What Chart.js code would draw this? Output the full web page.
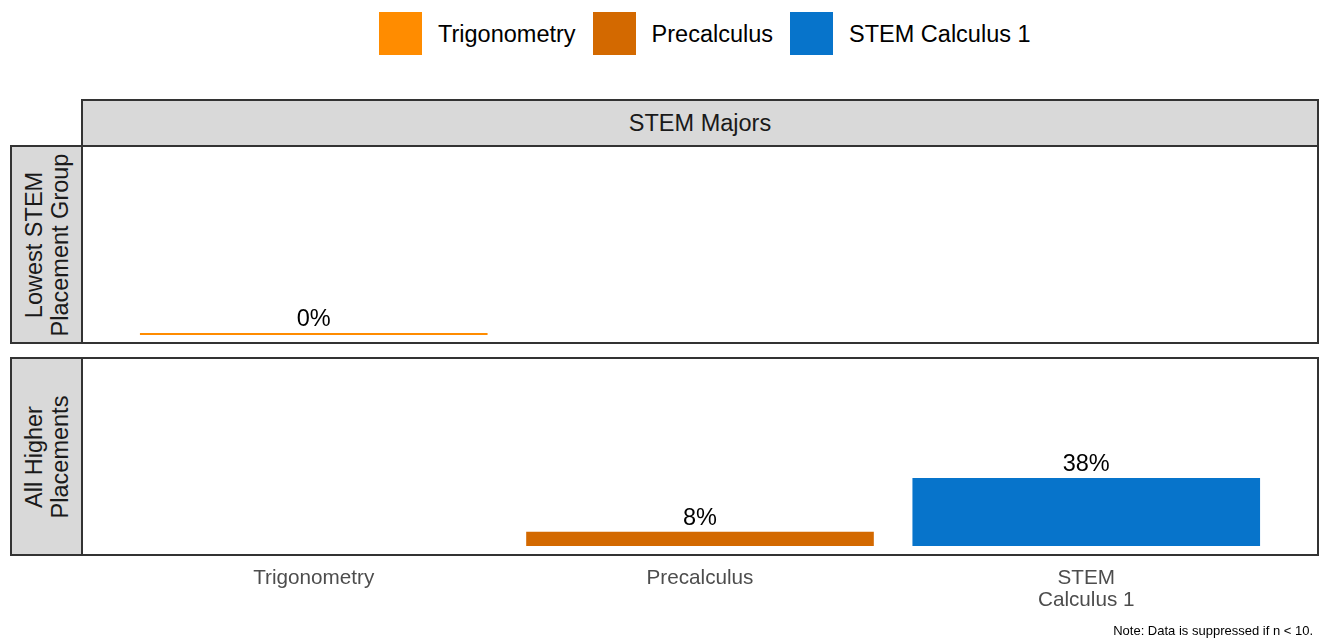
<!DOCTYPE html>
<html>
<head>
<meta charset="utf-8">
<script src="https://cdn.jsdelivr.net/npm/chart.js@4.4.1/dist/chart.umd.min.js"></script>
<style>
    body { margin: 0; background: #fff; font-family: "Liberation Sans", Arial, sans-serif; }
    #wrap { position: relative; width: 1319px; height: 641px; overflow: hidden; }
    canvas { position: absolute; left: 0; }
    #legend { position: absolute; top: 12px; left: 379px; display: flex; align-items: center; font-size: 23.5px; color: #000; }
    #legend .item { display: flex; align-items: center; margin-right: 17px; }
    #legend .box { width: 43px; height: 43px; margin-right: 16px; }
    #legend span { position: relative; top: 1px; }
    .strip { position: absolute; box-sizing: border-box; background: #d9d9d9; border: 2px solid #333; color: #1a1a1a; font-size: 23.5px; }
    .strip.top { left: 81px; top: 99px; width: 1238px; height: 48px; display: flex; align-items: center; justify-content: center; }
    .strip.row { left: 10px; width: 73px; }
    .strip.row span { position: absolute; left: 50%; top: 50%; transform: translate(-50%, -50%) rotate(-90deg); white-space: nowrap; text-align: center; line-height: 26px; }
    #note { position: absolute; right: 6px; bottom: 3px; font-size: 13px; color: #000; }
</style>
</head>
<body>
<div id="wrap">
    <div id="legend"></div>
    <div class="strip top" id="colStrip"></div>
    <div class="strip row" id="rowStrip0" style="top:145px;height:199px;"><span></span></div>
    <div class="strip row" id="rowStrip1" style="top:357px;height:199px;"><span></span></div>
    <canvas id="topPanel" width="1319" height="210" style="top:140px;"></canvas>
    <canvas id="bottomPanel" width="1319" height="289" style="top:352px;"></canvas>
    <div id="note">Note: Data is suppressed if n &lt; 10.</div>
</div>
<script>
// Datos del gráfico
const courses = ['Trigonometry', 'Precalculus', 'STEM Calculus 1'];
const courseColors = ['#FF8C00', '#D36900', '#0774CB'];
const tickLabels = [['Trigonometry'], ['Precalculus'], ['STEM', 'Calculus 1']];
const columnLabel = 'STEM Majors';
const rowLabels = [['Lowest STEM', 'Placement Group'], ['All Higher', 'Placements']];
const lowestGroup = [0, null, null];
const higherPlacements = [null, 0.08, 0.38];

// Leyenda
const legend = document.getElementById('legend');
courses.forEach((c, i) => {
    const item = document.createElement('div');
    item.className = 'item';
    item.innerHTML = `<div class="box" style="background:${courseColors[i]}"></div><span>${c}</span>`;
    legend.appendChild(item);
});

// Etiquetas de las facetas
document.getElementById('colStrip').textContent = columnLabel;
rowLabels.forEach((lines, i) => {
    document.querySelector(`#rowStrip${i} span`).innerHTML = lines.join('<br>');
});

// Borde del panel y etiquetas de porcentaje
const panelPlugin = {
    id: 'panel',
    afterDatasetsDraw(chart) {
        const ctx = chart.ctx;
        const a = chart.chartArea;
        ctx.save();
        ctx.fillStyle = '#000';
        ctx.font = '23.5px "Liberation Sans", Arial, sans-serif';
        ctx.textAlign = 'center';
        ctx.textBaseline = 'alphabetic';
        chart.data.datasets.forEach((ds, di) => {
            chart.getDatasetMeta(di).data.forEach((bar, i) => {
                const v = ds.data[i].y;
                if (v === null) return;
                ctx.fillText(Math.round(v * 100) + '%', bar.x, Math.min(bar.y, bar.base) - 7);
            });
        });
        ctx.strokeStyle = '#333';
        ctx.lineWidth = 2;
        ctx.strokeRect(a.left, a.top, a.right - a.left, a.bottom - a.top);
        ctx.restore();
    }
};

function makePanel(id, values, showAxis, padBottom) {
    return new Chart(document.getElementById(id), {
        type: 'bar',
        data: {
            datasets: [{
                data: values.map((v, i) => ({ x: i + 1, y: v })),
                backgroundColor: courseColors,
                borderWidth: 0,
                minBarLength: 2,
                barPercentage: 0.9,
                categoryPercentage: 1
            }]
        },
        options: {
            responsive: false,
            animation: false,
            devicePixelRatio: 1,
            layout: { padding: { left: 82, right: 1, top: 6, bottom: padBottom } },
            plugins: { legend: { display: false }, tooltip: { enabled: false } },
            scales: {
                x: {
                    type: 'linear',
                    min: 0.4,
                    max: 3.6,
                    offset: false,
                    display: showAxis,
                    grid: { display: false, drawTicks: false },
                    border: { display: false },
                    afterBuildTicks: (scale) => { scale.ticks = courses.map((c, i) => ({ value: i + 1 })); },
                    afterFit: (scale) => { if (showAxis) scale.height = 86; },
                    ticks: {
                        autoSkip: false,
                        maxRotation: 0,
                        padding: 12,
                        color: '#4d4d4d',
                        font: { family: '"Liberation Sans", Arial, sans-serif', size: 20.7, lineHeight: 1.08 },
                        callback: (v) => tickLabels[v - 1]
                    }
                },
                y: { min: -0.05, max: 1.05, display: false }
            }
        },
        plugins: [panelPlugin]
    });
}

makePanel('topPanel', lowestGroup, false, 7);
makePanel('bottomPanel', higherPlacements, true, 0);
</script>
</body>
</html>
